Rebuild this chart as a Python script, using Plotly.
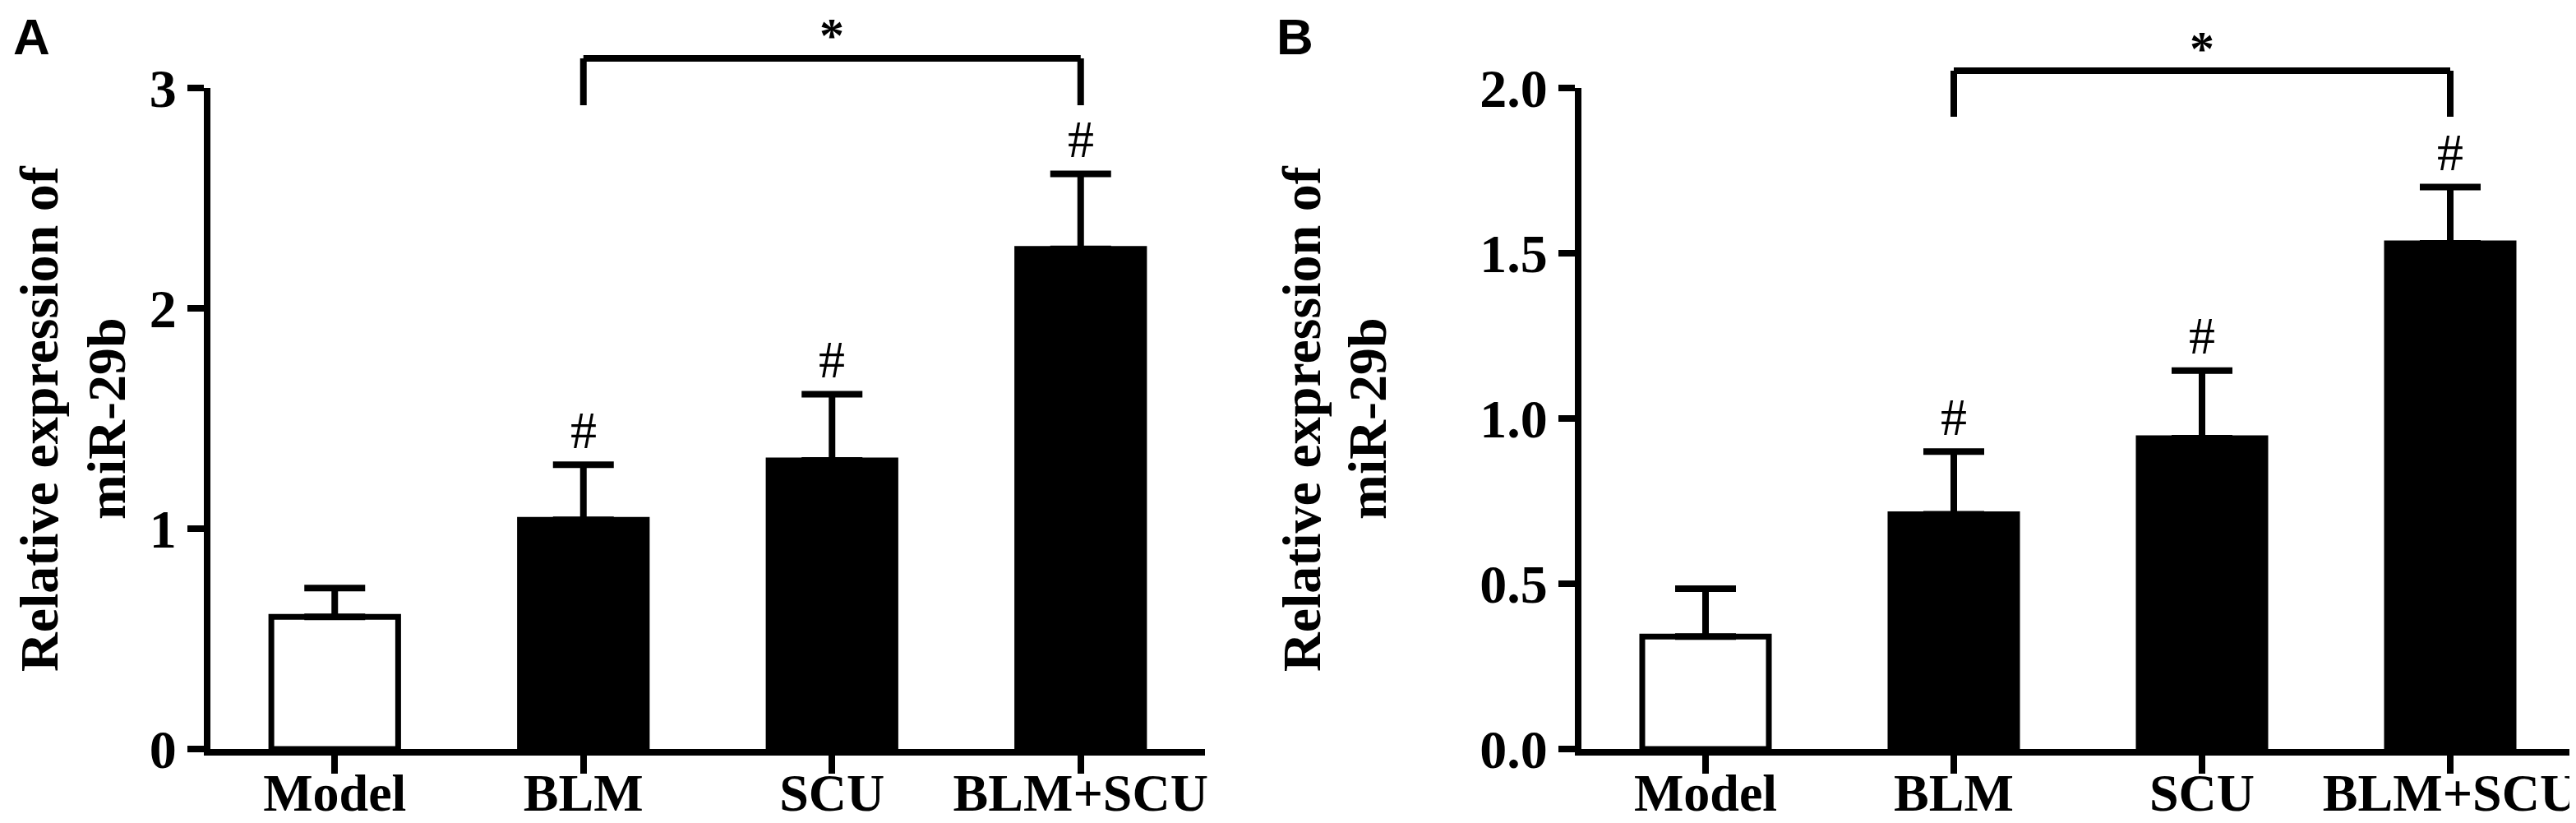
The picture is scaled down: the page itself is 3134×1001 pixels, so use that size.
import plotly.graph_objects as go

# data
categories = ["Model", "BLM", "SCU", "BLM+SCU"]
a_mean = [0.60, 1.04, 1.31, 2.27]
a_sem = [0.13, 0.25, 0.30, 0.34]
b_mean = [0.34, 0.71, 0.94, 1.53]
b_sem = [0.145, 0.19, 0.205, 0.17]
hash_mark = [False, True, True, True]
a_ticks = [0, 1, 2, 3]
a_ticktext = ["0", "1", "2", "3"]
b_ticks = [0, 0.5, 1.0, 1.5, 2.0]
b_ticktext = ["0.0", "0.5", "1.0", "1.5", "2.0"]
bar_fill = ["white", "black", "black", "black"]
title_lines = ["Relative expression of", "miR-29b"]

W, H = 3134, 1001
SERIF = "Liberation Serif"

fig = go.Figure()

panels = [
    dict(key="", mean=a_mean, sem=a_sem, ymax=3, ticks=a_ticks, ticktext=a_ticktext,
         dom=(248, 1458), letter="A", letter_x=6, title_x=(39, 121),
         bracket=(63, 120), star_shift=0),
    dict(key="2", mean=b_mean, sem=b_sem, ymax=2, ticks=b_ticks, ticktext=b_ticktext,
         dom=(1916, 3124), letter="B", letter_x=1543, title_x=(1575, 1655),
         bracket=(78, 134), star_shift=-16),
]

y_top_px, y_bot_px = 99, 903
ydom = [(H - y_bot_px) / H, (H - y_top_px) / H]

def px_to_paper_y(py):
    return (H - py) / H

for p in panels:
    xa = "x" + p["key"]
    ya = "y" + p["key"]
    fig.add_trace(go.Bar(
        x=categories, y=p["mean"], xaxis=xa, yaxis=ya, width=0.51,
        marker=dict(color=bar_fill, line=dict(color="black", width=7)),
        error_y=dict(type="data", symmetric=False, array=p["sem"],
                     arrayminus=[0] * len(p["sem"]), color="black",
                     thickness=8, width=37),
        showlegend=False, hoverinfo="skip",
    ))

    axis_x = dict(
        domain=[p["dom"][0] / W, p["dom"][1] / W], anchor=ya,
        type="category", range=[-0.5, 3.5], automargin=False,
        showline=True, linecolor="black", linewidth=8,
        ticks="outside", ticklen=22, tickwidth=8, tickcolor="black",
        ticklabelstandoff=-32,
        showgrid=False, zeroline=False,
        tickfont=dict(family=SERIF, size=64, color="black", weight="bold"),
    )
    axis_y = dict(
        domain=ydom, anchor=xa, range=[0, p["ymax"]], automargin=False,
        tickvals=p["ticks"], ticktext=p["ticktext"],
        showline=True, linecolor="black", linewidth=8,
        ticks="outside", ticklen=20, tickwidth=8, tickcolor="black",
        showgrid=False, zeroline=False,
        tickfont=dict(family=SERIF, size=66, color="black", weight="bold"),
    )
    fig.update_layout({"xaxis" + p["key"]: axis_x, "yaxis" + p["key"]: axis_y})

    # '#' marks above error bars
    for c, m, s, h in zip(categories, p["mean"], p["sem"], hash_mark):
        if h:
            fig.add_annotation(x=c, y=m + s, xref=xa, yref=ya, text="#",
                               showarrow=False, yshift=42, yanchor="middle",
                               font=dict(family=SERIF, size=64, color="black"))

    # significance bracket BLM vs BLM+SCU
    top_px, leg_px = p["bracket"]
    yt, yl = px_to_paper_y(top_px), px_to_paper_y(leg_px)
    for x0, y0, x1, y1 in [("BLM", yl, "BLM", yt), ("BLM", yt, "BLM+SCU", yt),
                           ("BLM+SCU", yt, "BLM+SCU", yl)]:
        fig.add_shape(type="line", xref=xa, yref="paper", x0=x0, x1=x1, y0=y0, y1=y1,
                      line=dict(color="black", width=8))
    fig.add_annotation(x="SCU", y=1, xref=xa, yref="paper", yshift=p["star_shift"],
                       text="*", showarrow=False, yanchor="top",
                       font=dict(family=SERIF, size=60, color="black", weight="bold"))

    # panel letter
    fig.add_annotation(x=p["letter_x"] / W, y=1, xref="paper", yref="paper",
                       text=p["letter"], showarrow=False, xanchor="left", yanchor="top",
                       font=dict(family="Liberation Sans", size=62, color="black",
                                 weight="bold"))

    # y axis title, one annotation per line
    for line, tx in zip(title_lines, p["title_x"]):
        fig.add_annotation(x=tx / W, y=sum(ydom) / 2, xref="paper", yref="paper",
                           text=line, textangle=-90,
                           showarrow=False, xanchor="center", yanchor="middle",
                           font=dict(family=SERIF, size=66, color="black", weight="bold"))

fig.update_layout(
    width=W, height=H,
    margin=dict(l=0, r=0, t=0, b=0, autoexpand=False),
    paper_bgcolor="white", plot_bgcolor="white",
    bargap=0.49,
)

fig.write_html("out.html")
